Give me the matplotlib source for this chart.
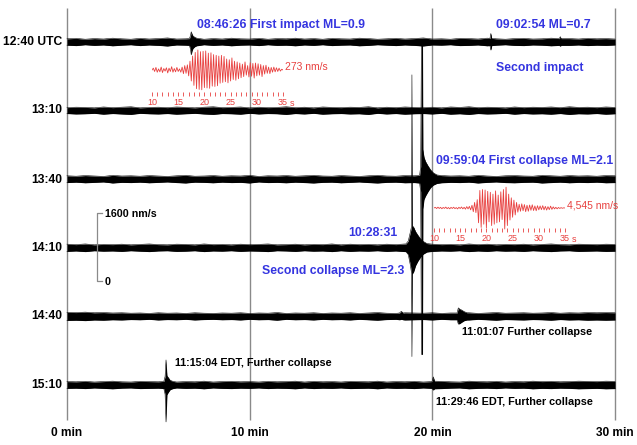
import numpy as np
import matplotlib
matplotlib.use("Agg")
import matplotlib.pyplot as plt
from matplotlib.ticker import MultipleLocator, FixedLocator

# ── CONFIG ────────────────────────────────────────────────
W, H = 637, 445
BLUE = "#3535e0"
RED = "#e8403f"
GRAY = "#8a8a8a"
plt.rcParams['font.family'] = ['Liberation Sans', 'DejaVu Sans']

# ── DATA ──────────────────────────────────────────────────
trace_labels = ["12:40 UTC", "13:10", "13:40", "14:10", "14:40", "15:10"]
TRACE_GAP = 1614          # nm/s between trace baselines
minute_ticks = [0, 10, 20, 30]
minute_labels = ["0 min", "10 min", "20 min", "30 min"]
scale_nm = 1600

# background noise half-width (nm/s), one value every 0.5 min from 0 to 30 min
noise_1240 = [75, 85, 65, 80, 70, 90, 75, 65, 85, 70, 80, 95, 70, 75, 85, 65, 80, 70, 90, 75,
              70, 85, 65, 80, 75, 90, 70, 80, 65, 85, 75, 70, 90, 80, 65, 75, 85, 70, 80, 95,
              70, 75, 65, 85, 80, 70, 90, 75, 65, 80, 85, 70, 75, 90, 65, 80, 70, 85, 75, 80, 70]
noise_1310 = [70, 80, 75, 65, 85, 70, 80, 90, 65, 75, 80, 70, 85, 75, 65, 80, 90, 70, 75, 85,
              65, 80, 70, 75, 90, 70, 80, 65, 85, 75, 70, 80, 75, 90, 65, 80, 70, 85, 75, 70,
              80, 65, 85, 75, 90, 70, 80, 75, 65, 85, 70, 80, 75, 85, 70, 90, 75, 80, 70, 85, 75]
noise_1340 = [80, 70, 85, 75, 65, 90, 75, 80, 70, 85, 75, 65, 80, 90, 70, 75, 85, 70, 80, 75,
              90, 65, 80, 75, 85, 70, 80, 90, 75, 70, 85, 75, 65, 80, 90, 75, 70, 85, 80, 75,
              70, 85, 75, 80, 70, 90, 75, 65, 80, 85, 75, 70, 90, 80, 70, 85, 75, 80, 70, 85, 80]
noise_1410 = [85, 75, 90, 70, 80, 75, 85, 70, 80, 90, 75, 70, 85, 80, 70, 90, 75, 80, 70, 85,
              75, 80, 90, 70, 75, 85, 70, 80, 75, 90, 70, 85, 75, 80, 70, 85, 75, 90, 80, 70,
              85, 75, 80, 70, 90, 75, 85, 70, 80, 75, 85, 70, 80, 90, 75, 70, 85, 80, 75, 85, 80]
noise_1440 = [95, 90, 100, 85, 90, 80, 85, 75, 80, 70, 85, 75, 80, 70, 85, 75, 70, 80, 75, 85,
              70, 80, 75, 90, 70, 80, 75, 85, 70, 80, 75, 85, 70, 80, 90, 75, 70, 85, 80, 75,
              85, 70, 80, 75, 85, 70, 80, 90, 75, 80, 85, 75, 80, 90, 75, 85, 80, 90, 85, 90, 85]
noise_1510 = [80, 75, 85, 70, 80, 90, 75, 70, 85, 80, 75, 85, 70, 80, 75, 90, 70, 80, 85, 75,
              80, 70, 85, 75, 80, 90, 70, 85, 75, 80, 70, 85, 80, 75, 90, 70, 80, 75, 85, 70,
              80, 85, 75, 70, 90, 80, 75, 85, 70, 80, 75, 90, 80, 85, 75, 80, 90, 85, 80, 90, 85]

# events: (minute, up nm/s, down nm/s)
events_1240 = [
    [(6.70, 80, 80), (6.76, 150, 170), (6.80, 240, 300), (6.85, 180, 200),
     (6.90, 140, 150), (7.00, 110, 110), (7.10, 90, 90)],
    [(23.15, 85, 85), (23.20, 200, 190), (23.25, 85, 85)],
    [(26.95, 80, 80), (27.00, 125, 100), (27.05, 80, 80)],
]
events_1310 = []
events_1340 = [
    [(19.30, 90, 90), (19.36, 300, 300), (19.40, 3220, 4120), (19.46, 3220, 4120),
     (19.48, 700, 700), (19.54, 520, 480), (19.62, 420, 400), (19.75, 320, 300),
     (19.90, 220, 200), (20.05, 150, 140), (20.25, 100, 100)],
]
events_1410 = [
    [(18.55, 90, 90), (18.68, 160, 160), (18.80, 380, 420), (18.86, 500, 600),
     (18.88, 4070, 2560), (18.90, 520, 620), (18.98, 480, 560), (19.08, 380, 420),
     (19.20, 300, 320), (19.35, 210, 220), (19.50, 150, 150), (19.70, 100, 100)],
]
events_1440 = [
    [(18.20, 80, 80), (18.30, 120, 70), (18.40, 80, 80)],
    [(21.35, 80, 80), (21.42, 200, 180), (21.50, 170, 170), (21.60, 150, 140),
     (21.75, 110, 100), (21.90, 85, 85)],
]
events_1510 = [
    [(5.30, 85, 85), (5.37, 200, 220), (5.42, 590, 870), (5.47, 220, 230),
     (5.55, 170, 170), (5.65, 110, 110), (5.80, 85, 85)],
    [(19.98, 80, 80), (20.05, 190, 120), (20.12, 90, 90)],
]

noises = [noise_1240, noise_1310, noise_1340, noise_1410, noise_1440, noise_1510]
events = [events_1240, events_1310, events_1340, events_1410, events_1440, events_1510]

# zoomed waveforms (nm/s), one sample every 0.25 s from 10 to 35 s
wave_impact = [0, 25, -20, 35, -30, 15, -25, 40, -35, 20, -15, 30, -40, 25, -20, 45, -30, 20, -25, 35,
               -20, 15, -30, 40, -50, 60, -45, 70, -80, 120, -150, 190, -210, 240, -255, 273, -265, 250,
               -270, 255, -240, 260, -245, 230, -250, 235, -220, 210, -225, 200, -215, 190, -180, 200,
               -170, 185, -160, 150, -175, 140, -150, 165, -130, 120, -140, 110, -120, 95, -105, 80,
               -90, 110, -70, 60, -95, 100, -85, 90, -110, 95, -80, 85, -70, 75, -90, 60, -55, 65,
               -45, 40, -50, 35, -30, 40, -25, 30, -20, 25, -15, 10, 0]
wave_collapse = [0, 150, -120, 180, -100, 140, -160, 120, -90, 200, -150, 110, -180, 130, -100, 170,
                 -140, 90, -200, 160, -120, 220, -180, 150, -250, 300, -200, 350, -400, 600, -800,
                 1200, -1000, 1800, -3200, 3800, -4200, 4000, -3500, 3900, -4300, 3600, -3000, 3400,
                 -3800, 3000, -3500, 3700, -3200, 2800, -3000, 3500, -2500, 4000, -4545, 4500, -3800,
                 3000, -2600, 2200, -2000, 1700, -1500, 1200, -900, 800, -700, 900, -600, 750, -800,
                 600, -700, 650, -500, 700, -550, 450, -600, 500, -400, 450, -350, 500, -400, 350,
                 -450, 300, -350, 400, -300, 250, -200, 150, -180, 120, -100, 80, -60, 40, 0]
inset_ticks = [10, 15, 20, 25, 30, 35]


def px(x, y):
    return x / W, 1 - y / H


def build_envelope(noise, evs):
    t = np.linspace(0, 30, len(noise))
    up = np.array(noise, float)
    dn = up.copy()
    keep = np.ones(len(t), bool)
    for ev in evs:
        ts = [p[0] for p in ev]
        keep &= ~((t >= min(ts)) & (t <= max(ts)))
    t, up, dn = list(t[keep]), list(up[keep]), list(dn[keep])
    for ev in evs:
        for (te, u, d) in ev:
            t.append(te); up.append(u); dn.append(d)
    order = np.argsort(t)
    return np.array(t)[order], np.array(up)[order], np.array(dn)[order]


# ── FIGURE ────────────────────────────────────────────────
fig = plt.figure(figsize=(W / 100, H / 100), dpi=100)
ax = fig.add_axes([0, 0, 1, 1])
ax.set_xlim(-3.667, 31.2)
ax.set_ylim(-9482, 988)
ax.axis('off')

# minute grid lines
ax.vlines(minute_ticks, -8894, 800, color=GRAY, lw=1.0, zorder=1)

for k, (noise, evs) in enumerate(zip(noises, events)):
    base = -k * TRACE_GAP
    t, up, dn = build_envelope(noise, evs)
    ax.fill_between(t, base - dn, base + up, color='black', lw=0, zorder=2)
    ax.plot(t, base + up, color='black', lw=0.4, zorder=2)
    ax.plot(t, base - dn, color='black', lw=0.4, zorder=2)

# amplitude scale bar
bar_x, bar_y0 = 1.64, -5633
ax.plot([bar_x + 0.25, bar_x, bar_x, bar_x + 0.25],
        [bar_y0 + scale_nm, bar_y0 + scale_nm, bar_y0, bar_y0], color=GRAY, lw=0.9)
fig.text(*px(105, 214), f"{scale_nm} nm/s", fontsize=7.7, fontweight='bold', va='center')
fig.text(*px(105, 282), "0", fontsize=7.7, fontweight='bold', va='center')

# trace time labels
trace_y = [42, 110, 180, 248, 316, 385]
for lab, y in zip(trace_labels, trace_y):
    fig.text(*px(62, y), lab, fontsize=8.7, fontweight='bold', ha='right', va='center')

for m, lab in zip(minute_ticks, minute_labels):
    ax.text(m, -9200, lab, fontsize=8.6, fontweight='bold', ha='center', va='center')

# event annotations
blue_notes = [
    (197, 25, "08:46:26 First impact ML=0.9"),
    (496, 25, "09:02:54 ML=0.7"),
    (496, 68, "Second impact"),
    (436, 161, "09:59:04 First collapse ML=2.1"),
    (348, 233, "10:28:31"),
    (262, 271, "Second collapse ML=2.3"),
]
for x, y, s in blue_notes:
    fig.text(*px(x, y), s, color=BLUE, fontsize=8.8, fontweight='bold', va='center')

black_notes = [
    (462, 332, "11:01:07 Further collapse"),
    (175, 363, "11:15:04 EDT, Further collapse"),
    (436, 402, "11:29:46 EDT, Further collapse"),
]
for x, y, s in black_notes:
    fig.text(*px(x, y), s, color='black', fontsize=7.8, fontweight='bold', va='center')


# zoomed waveform insets
def draw_inset(x0, yc, top, bottom, tick_y, wave, peak, peak_px, label):
    scale = peak / peak_px                      # nm/s per pixel
    iax = fig.add_axes([x0 / W, 1 - bottom / H, 131 / W, (bottom - top) / H])
    iax.set_xlim(10, 35)
    iax.set_ylim(-(bottom - yc) * scale, (yc - top) * scale)
    iax.patch.set_alpha(0)
    tt = np.linspace(10, 35, len(wave))
    iax.plot(tt, wave, color=RED, lw=0.6)
    for side in ['top', 'right', 'left']:
        iax.spines[side].set_visible(False)
    iax.spines['bottom'].set_position(('data', -(tick_y - yc) * scale))
    iax.spines['bottom'].set_visible(False)
    iax.set_yticks([])
    iax.xaxis.set_major_locator(FixedLocator(inset_ticks))
    iax.xaxis.set_minor_locator(MultipleLocator(1))
    iax.set_xticklabels([str(v) for v in inset_ticks])
    iax.tick_params(axis='x', which='both', direction='in', length=3, width=0.6,
                    color=RED, labelcolor=RED, labelsize=6.5, pad=1.5)
    iax.text(36.3, -(tick_y + 7 - yc) * scale, "s", color=RED, fontsize=6.5, va='center')
    fig.text(*px(x0 + 133, yc - 3), label, color=RED, fontsize=7.5, va='center')


draw_inset(152, 70, 45, 110, 96, wave_impact, 273, 20, "273 nm/s")
draw_inset(434, 208, 183, 250, 232, wave_collapse, 4545, 21, "4,545 nm/s")

fig.savefig("out.png", dpi=100)
